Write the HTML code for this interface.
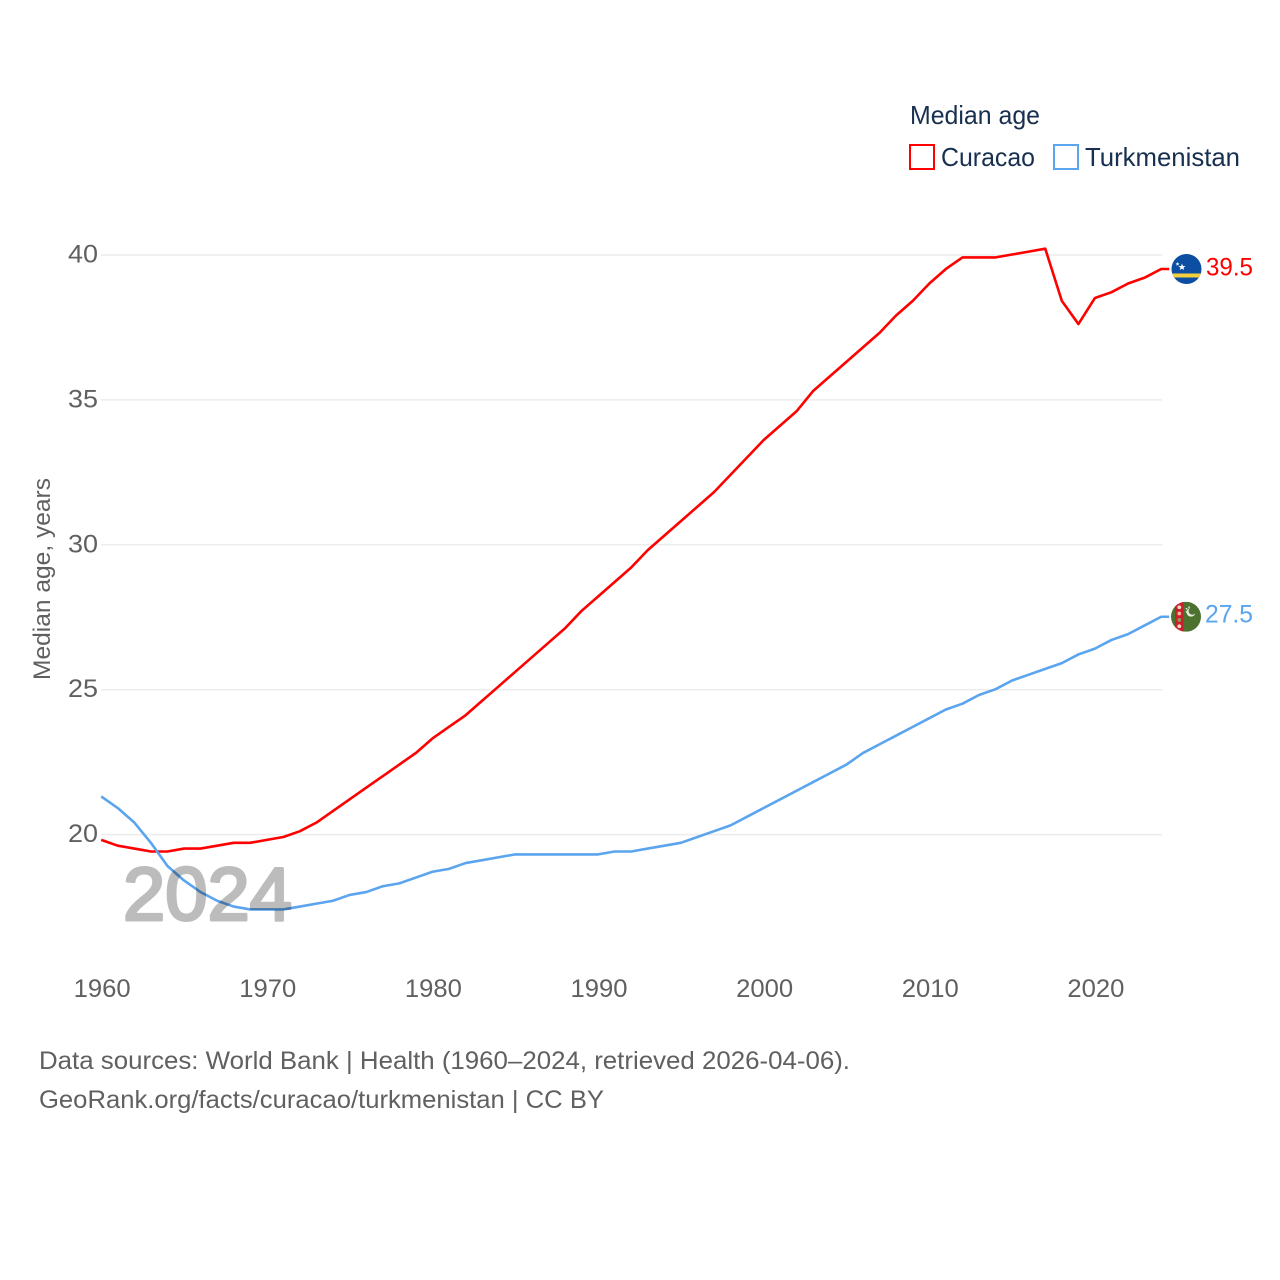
<!DOCTYPE html>
<html lang="en">
<head>
<meta charset="utf-8">
<title>Median age: Curacao and Turkmenistan</title>
<style>
html,body{margin:0;padding:0;background:#fff;}
svg{display:block;font-family:"Liberation Sans",sans-serif;}
</style>
</head>
<body>
<svg id="chart" xmlns="http://www.w3.org/2000/svg" width="1280" height="1280" viewBox="0 0 1280 1280">
  <rect width="1280" height="1280" fill="#fff"/>
  <g id="grid"></g>
  <g id="yticks"></g>
  <g id="xticks"></g>
  <text transform="translate(50,579) rotate(-90)" text-anchor="middle" font-size="24" fill="#606060" textLength="202" lengthAdjust="spacingAndGlyphs">Median age, years</text>
  <g id="series"></g>
  <text id="year" x="123" y="920" font-size="75" fill="#000" stroke="#000" stroke-width="3" stroke-linejoin="round" opacity="0.26" textLength="169" lengthAdjust="spacingAndGlyphs">2024</text>

  <g id="flag-curacao">
    <clipPath id="clip-c"><circle cx="0" cy="0" r="15"/></clipPath>
    <g clip-path="url(#clip-c)">
      <rect x="-15" y="-15" width="30" height="30" fill="#0b4ea2"/>
      <rect x="-15" y="4.5" width="30" height="4" fill="#f4d03f"/>
    </g>
    <polygon points="-4.5,-5.5 -3.6,-3 -1,-3 -3,-1.4 -2.3,1 -4.5,-0.4 -6.7,1 -6,-1.4 -8,-3 -5.4,-3" fill="#fff"/>
    <polygon points="-9,-7 -8.5,-5.6 -7,-5.6 -8.2,-4.7 -7.8,-3.3 -9,-4.1 -10.2,-3.3 -9.8,-4.7 -11,-5.6 -9.5,-5.6" fill="#fff"/>
  </g>
  <g id="flag-turkmenistan">
    <clipPath id="clip-t"><circle cx="0" cy="0" r="15"/></clipPath>
    <g clip-path="url(#clip-t)">
      <rect x="-15" y="-15" width="30" height="30" fill="#4d7230"/>
      <rect x="-11" y="-15" width="8.5" height="30" fill="#c8202f"/>
      <circle cx="-6.7" cy="-9.5" r="1.9" fill="#f1d9c0"/>
      <circle cx="-6.7" cy="-3.2" r="1.9" fill="#e9b98f"/>
      <circle cx="-6.7" cy="3.2" r="1.9" fill="#8f9a4a"/>
      <circle cx="-6.7" cy="9.5" r="1.9" fill="#f1d9c0"/>
    </g>
    <circle cx="5" cy="-4.5" r="4.4" fill="#e6ece0"/>
    <circle cx="6.3" cy="-5.7" r="3.7" fill="#4d7230"/>
    <circle cx="0.5" cy="-8" r="0.9" fill="#dfe6d8"/>
    <circle cx="3" cy="-9.5" r="0.9" fill="#dfe6d8"/>
    <circle cx="0.5" cy="-5" r="0.9" fill="#dfe6d8"/>
  </g>
  <text id="label-curacao" x="1206" font-size="25" fill="#ff0000" textLength="47" lengthAdjust="spacingAndGlyphs"></text>
  <text id="label-turkmenistan" x="1205" font-size="25" fill="#5ba4ee" textLength="48" lengthAdjust="spacingAndGlyphs"></text>

  <g>
    <text x="910" y="124" font-size="26" fill="#18304f" textLength="130" lengthAdjust="spacingAndGlyphs">Median age</text>
    <rect x="910" y="145" width="24" height="24" fill="#fff" stroke="#ff0000" stroke-width="2"/>
    <text x="941" y="166" font-size="26" fill="#18304f" textLength="94" lengthAdjust="spacingAndGlyphs">Curacao</text>
    <rect x="1054" y="145" width="24" height="24" fill="#fff" stroke="#5ba4ee" stroke-width="2"/>
    <text x="1085" y="166" font-size="26" fill="#18304f" textLength="155" lengthAdjust="spacingAndGlyphs">Turkmenistan</text>
  </g>

  <text x="39" y="1069" font-size="25" fill="#606060" textLength="811" lengthAdjust="spacingAndGlyphs">Data sources: World Bank | Health (1960–2024, retrieved 2026-04-06).</text>
  <text x="39" y="1108" font-size="25" fill="#606060" textLength="565" lengthAdjust="spacingAndGlyphs">GeoRank.org/facts/curacao/turkmenistan | CC BY</text>
</svg>
<script>
var startYear = 1960;
var xTickLabels = [1960, 1970, 1980, 1990, 2000, 2010, 2020];
var yTickLabels = [20, 25, 30, 35, 40];
var curacaoValues = [19.8,19.6,19.5,19.4,19.4,19.5,19.5,19.6,19.7,19.7,19.8,19.9,20.1,20.4,20.8,21.2,21.6,22.0,22.4,22.8,23.3,23.7,24.1,24.6,25.1,25.6,26.1,26.6,27.1,27.7,28.2,28.7,29.2,29.8,30.3,30.8,31.3,31.8,32.4,33.0,33.6,34.1,34.6,35.3,35.8,36.3,36.8,37.3,37.9,38.4,39.0,39.5,39.9,39.9,39.9,40.0,40.1,40.2,38.4,37.6,38.5,38.7,39.0,39.2,39.5];
var turkmenistanValues = [21.3,20.9,20.4,19.7,18.9,18.4,18.0,17.7,17.5,17.4,17.4,17.4,17.5,17.6,17.7,17.9,18.0,18.2,18.3,18.5,18.7,18.8,19.0,19.1,19.2,19.3,19.3,19.3,19.3,19.3,19.3,19.4,19.4,19.5,19.6,19.7,19.9,20.1,20.3,20.6,20.9,21.2,21.5,21.8,22.1,22.4,22.8,23.1,23.4,23.7,24.0,24.3,24.5,24.8,25.0,25.3,25.5,25.7,25.9,26.2,26.4,26.7,26.9,27.2,27.5];

var NS = 'http://www.w3.org/2000/svg';
function xScale(year) { return 101.2 + (year - 1960) * (1060 / 64); }
function yScale(v) { return 254.5 + (40 - v) * 28.98; }
function make(tag, attrs, parent) {
  var el = document.createElementNS(NS, tag);
  for (var k in attrs) el.setAttribute(k, attrs[k]);
  parent.appendChild(el);
  return el;
}

var grid = document.getElementById('grid');
var yt = document.getElementById('yticks');
var xt = document.getElementById('xticks');

yTickLabels.forEach(function (v) {
  var line = make('line', { x1: 101, x2: 1162, y1: yScale(v) + 0.5, y2: yScale(v) + 0.5, stroke: '#ececec', 'stroke-width': 1.5 }, grid);
  
  
  var t = make('text', { x: 98, y: yScale(v) + 8, 'text-anchor': 'end', 'font-size': 25, fill: '#606060', textLength: 30, lengthAdjust: 'spacingAndGlyphs' }, yt);
  
  
  t.textContent = v;
});

xTickLabels.forEach(function (yr) {
  var t = make('text', { x: xScale(yr) + 1, y: 997, 'text-anchor': 'middle', 'font-size': 25, fill: '#606060', textLength: 57, lengthAdjust: 'spacingAndGlyphs' }, xt);
  
  
  t.textContent = yr;
});

function linePoints(values) {
  var pts = values.map(function (v, i) { return xScale(startYear + i).toFixed(2) + ',' + yScale(v).toFixed(2); });
  var last = values[values.length - 1];
  pts.push((xScale(startYear + values.length - 1) + 8).toFixed(2) + ',' + yScale(last).toFixed(2));
  return pts.join(' ');
}

var seriesGroup = document.getElementById('series');
var lineCuracao = make('polyline', { points: linePoints(curacaoValues), fill: 'none', stroke: '#ff0000', 'stroke-width': 2.6, 'stroke-linejoin': 'round' }, seriesGroup);


var lineTurkmenistan = make('polyline', { points: linePoints(turkmenistanValues), fill: 'none', stroke: '#5ba4ee', 'stroke-width': 2.6, 'stroke-linejoin': 'round' }, seriesGroup);



var lastC = curacaoValues[curacaoValues.length - 1];
var lastT = turkmenistanValues[turkmenistanValues.length - 1];
document.getElementById('flag-curacao').setAttribute('transform', 'translate(1186.5,' + yScale(lastC) + ')');
document.getElementById('flag-turkmenistan').setAttribute('transform', 'translate(1186,' + yScale(lastT) + ')');
var lc = document.getElementById('label-curacao');
lc.setAttribute('y', yScale(lastC) + 6.5);
lc.textContent = lastC.toFixed(1);
var lt = document.getElementById('label-turkmenistan');
lt.setAttribute('y', yScale(lastT) + 5.5);
lt.textContent = lastT.toFixed(1);
</script>
</body>
</html>
